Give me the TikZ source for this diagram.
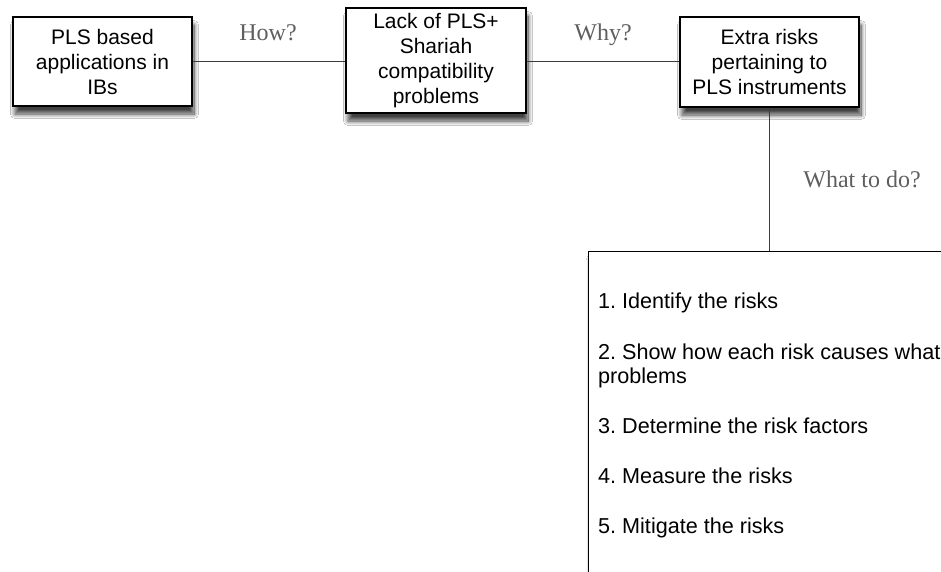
\documentclass[tikz,border=0pt]{standalone}
\usepackage{fontspec}
\setmainfont{Liberation Sans}
\newfontfamily\labelfont{Liberation Serif}
\usetikzlibrary{shadows.blur}
\definecolor{labelgray}{RGB}{95,95,95}
\definecolor{linkgray}{RGB}{60,60,60}
\tikzset{
  card/.style={draw=black, line width=1.4pt, fill=white, align=center,
    inner sep=0pt, font=\fontsize{21}{25}\selectfont,
    blur shadow={shadow xshift=2pt, shadow yshift=-8pt, shadow blur radius=4.5pt,
      shadow blur steps=12, shadow opacity=75}},
  link/.style={draw=linkgray, line width=1.5pt},
  question/.style={text=labelgray, font=\labelfont\fontsize{24}{28}\selectfont,
    inner sep=0pt, anchor=base},
  stepitem/.style={anchor=base west, inner sep=0pt, align=left,
    font=\fontsize{21.6}{24}\selectfont}
}
\begin{document}
\frenchspacing
\begin{tikzpicture}[x=1pt,y=-1pt]
  \useasboundingbox (0,0) rectangle (941,571);
  \clip (0,0) rectangle (941,571);
  \fill[white] (0,0) rectangle (941,571);

  % the three stages along the top
  \node[card, minimum width=179pt, minimum height=89pt] (apps) at (102.5,61.5)
    {PLS based\\applications in\\IBs};
  \node[card, minimum width=180pt, minimum height=105pt] (lack) at (436,60.5)
    {Lack of PLS+\\Shariah\\compatibility\\problems};
  \node[card, minimum width=179pt, minimum height=90pt] (risks) at (769.5,62)
    {Extra risks\\pertaining to\\PLS instruments};

  % action plan box, running off the page
  \node[card, anchor=north west, minimum width=420pt, minimum height=380pt]
    (plan) at (588,251) {};

  % connectors
  \draw[link] (apps.east) -- (apps.east -| lack.west);
  \draw[link] (lack.east |- apps.east) -- (risks.west |- apps.east);
  \draw[link] (risks.south) -- (risks.south |- plan.north);

  % questions on the connectors
  \node[question] (how) at (268,40) {How?};
  \node[question] (why) at (603,40) {Why?};
  \node[question] (what) at (862,187) {What to do?};

  % steps of the plan (a two-line node sits on its last baseline)
  \node[stepitem] (s1) at (598,308) {1. Identify the risks};
  \node[stepitem] (s2) at (598,383) {2. Show how each risk causes what\\problems};
  \node[stepitem] (s3) at (598,433) {3. Determine the risk factors};
  \node[stepitem] (s4) at (598,483) {4. Measure the risks};
  \node[stepitem] (s5) at (598,533) {5. Mitigate the risks};
\end{tikzpicture}
\end{document}
